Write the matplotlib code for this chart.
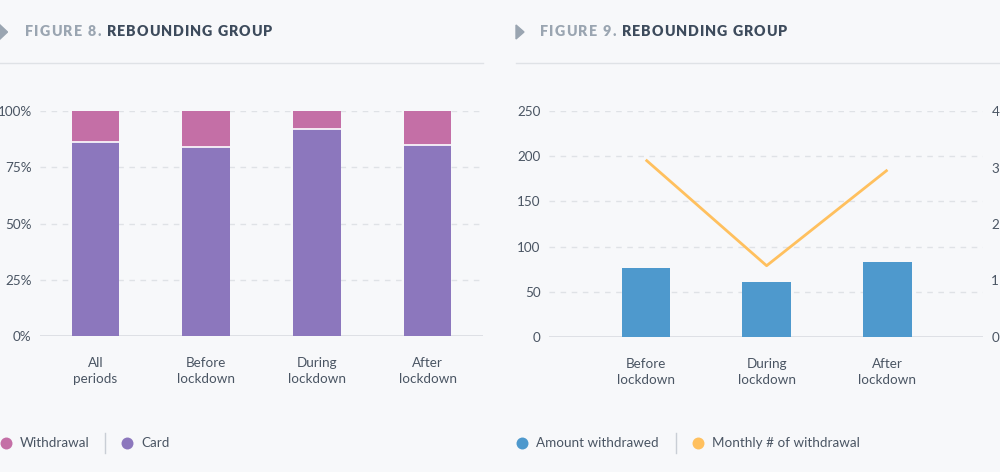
import matplotlib
matplotlib.use("Agg")
import matplotlib.pyplot as plt
from matplotlib.font_manager import FontProperties
from matplotlib.lines import Line2D
from matplotlib.patches import Polygon

# ---------------- data ----------------
cats8 = ["All\nperiods", "Before\nlockdown", "During\nlockdown", "After\nlockdown"]
card = [86.5, 84, 92, 85]
withdrawal = [13.5, 16, 8, 15]
series8 = ["Withdrawal", "Card"]
yticks8 = [0, 25, 50, 75, 100]
ylabels8 = ["0%", "25%", "50%", "75%", "100%"]

cats9 = ["Before\nlockdown", "During\nlockdown", "After\nlockdown"]
amount = [76, 61, 83]
monthly = [3.14, 1.26, 2.96]
series9 = ["Amount withdrawed", "Monthly # of withdrawal"]
yticks9 = [0, 50, 100, 150, 200, 250]
yticks9r = [0, 1, 2, 3, 4]

# ---------------- style ----------------
W, H = 1000, 472
BG = "#f7f8fa"
PURPLE = "#8c77bd"
PINK = "#c46fa6"
BLUE = "#4e99cd"
ORANGE = "#ffc05e"
GRID = "#dfe2e6"
TXT = "#4a5563"
TITLE_DARK = "#3d4b5c"
TITLE_GRAY = "#9aa5b1"
FONT = "Lato"

plt.rcParams["font.family"] = [FONT, "DejaVu Sans"]

fig = plt.figure(figsize=(W / 100, H / 100), dpi=100, facecolor=BG)


def fx(x):
    return x / W


def fy(y):
    return 1 - y / H


def style_ax(ax):
    ax.set_facecolor(BG)
    for s in ax.spines.values():
        s.set_visible(False)
    ax.tick_params(length=0, labelsize=9.7, labelcolor=TXT)
    ax.grid(axis="y", color=GRID, linestyle=(0, (4, 4)), linewidth=1)
    ax.set_axisbelow(True)


# ---------------- Figure 8 ----------------
ax1 = fig.add_axes([fx(40), fy(336), fx(483 - 40), (336 - 111.3) / H])
style_ax(ax1)
x8 = list(range(len(cats8)))
ax1.bar(x8, card, width=0.43, color=PURPLE, edgecolor="none", zorder=2)
ax1.bar(x8, withdrawal, bottom=card, width=0.43, color=PINK, edgecolor="none", zorder=2)
for xi, c in zip(x8, card):
    ax1.hlines(c, xi - 0.215, xi + 0.215, color="white", linewidth=1.2, zorder=3)
ax1.set_xlim(-0.5, len(cats8) - 0.5)
ax1.set_ylim(0, 100)
ax1.set_yticks(yticks8)
ax1.set_yticklabels(ylabels8)
ax1.set_xticks(x8)
ax1.set_xticklabels(cats8, linespacing=1.4)
ax1.tick_params(axis="x", pad=15)
ax1.tick_params(axis="y", pad=6)
ax1.axhline(0, color="#d9dce1", linewidth=1.2, zorder=1)
ax1.get_ygridlines()[0].set_visible(False)

# ---------------- Figure 9 ----------------
ax2 = fig.add_axes([fx(549), fy(336.7), fx(983 - 549), (336.7 - 111.3) / H])
style_ax(ax2)
x9 = list(range(len(cats9)))
ax2.bar(x9, amount, width=0.4, color=BLUE, zorder=2)
ax2.set_xlim(-0.8, 2.79)
ax2.set_ylim(0, 250)
ax2.set_yticks(yticks9)
ax2.set_xticks(x9)
ax2.set_xticklabels(cats9, linespacing=1.4)
ax2.tick_params(axis="x", pad=15)
ax2.tick_params(axis="y", pad=6)
ax2.axhline(0, color="#d9dce1", linewidth=1.2, zorder=1)
ax2.get_ygridlines()[0].set_visible(False)

ax2r = ax2.twinx()
for s in ax2r.spines.values():
    s.set_visible(False)
ax2r.plot(x9, monthly, color=ORANGE, linewidth=2, solid_capstyle="butt", zorder=4)
ax2r.set_ylim(0, 4)
ax2r.set_yticks(yticks9r)
ax2r.tick_params(length=0, labelsize=9.7, labelcolor=TXT, pad=6)

# ---------------- titles ----------------
renderer = fig.canvas.get_renderer()
tprop = FontProperties(family=FONT, weight="heavy", size=10.3)


def spaced_text(x0, x1, y, s, color):
    widths = [renderer.get_text_width_height_descent(ch, tprop, ismath=False)[0] for ch in s]
    gap = (x1 - x0 - sum(widths)) / max(len(s) - 1, 1)
    x = x0
    for ch, w in zip(s, widths):
        fig.text(fx(x), fy(y), ch, color=color, fontproperties=tprop, ha="left", va="center")
        x += w + gap


def title(offset, num):
    spaced_text(25 + offset, 101 + offset, 32, f"FIGURE {num}.", TITLE_GRAY)
    spaced_text(107 + offset, 272 + offset, 32, "REBOUNDING GROUP", TITLE_DARK)


title(0, 8)
title(515, 9)

fig.add_artist(Polygon([(fx(-1), fy(24)), (fx(7.5), fy(32)), (fx(-1), fy(40))],
                       closed=True, transform=fig.transFigure, color=TITLE_GRAY))
fig.add_artist(Polygon([(fx(516), fy(25)), (fx(524), fy(32)), (fx(516), fy(39))],
                       closed=True, transform=fig.transFigure, color=TITLE_GRAY))

fig.add_artist(Line2D([fx(0), fx(483)], [fy(63.3), fy(63.3)], transform=fig.transFigure,
                      color=GRID, linewidth=1))
fig.add_artist(Line2D([fx(516), fx(1000)], [fy(63.3), fy(63.3)], transform=fig.transFigure,
                      color=GRID, linewidth=1))

# ---------------- legends ----------------
LY = 443


def legend_item(cx, tx, label, color):
    fig.add_artist(Line2D([fx(cx)], [fy(LY)], marker="o", markersize=8.6, color=color,
                          markeredgewidth=0, linestyle="none", transform=fig.transFigure))
    fig.text(fx(tx), fy(LY), label, color=TXT, fontsize=9.7, ha="left", va="center")


def legend_sep(x):
    fig.add_artist(Line2D([fx(x), fx(x)], [fy(433), fy(453)], transform=fig.transFigure,
                          color="#c9ced5", linewidth=1))


legend_item(6, 20, series8[0], PINK)
legend_sep(105)
legend_item(127, 141, series8[1], PURPLE)

legend_item(521.7, 536, series9[0], BLUE)
legend_sep(675.7)
legend_item(698, 712, series9[1], ORANGE)

fig.savefig("out.png", dpi=100, facecolor=BG)
